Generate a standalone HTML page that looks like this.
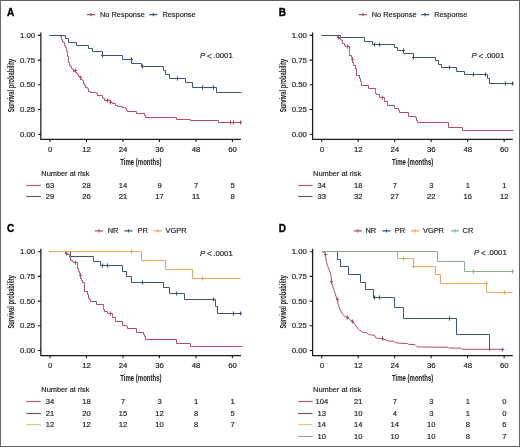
<!DOCTYPE html>
<html><head><meta charset="utf-8"><style>
html,body{margin:0;padding:0;background:#fff;}
body{width:520px;height:447px;overflow:hidden;}
svg{display:block;will-change:transform;}
svg text.t{text-anchor:middle;stroke-width:0.05px;}
svg text{font-family:"Liberation Sans",sans-serif;fill:#1e1e1e;stroke:#1e1e1e;stroke-width:0.18px;}
</style></head><body>
<svg width="520" height="447" viewBox="0 0 520 447">
<rect x="0" y="0" width="520" height="447" fill="#fff"/>
<text x="7.00" y="15.90" font-size="10" font-weight="bold" style="fill:#000;stroke:#000;stroke-width:0.35px">A</text>
<path d="M40.85,32.50V139.35H241.00" fill="none" stroke="#1a1a1a" stroke-width="1.25"/>
<text x="35.20" y="37.85" font-size="7.8" text-anchor="end" >1.00</text>
<text x="35.20" y="62.55" font-size="7.8" text-anchor="end" >0.75</text>
<text x="35.20" y="87.25" font-size="7.8" text-anchor="end" >0.50</text>
<text x="35.20" y="111.95" font-size="7.8" text-anchor="end" >0.25</text>
<text x="35.20" y="136.65" font-size="7.8" text-anchor="end" >0.00</text>
<text x="50.05" y="151.70" font-size="7.8" text-anchor="middle" >0</text>
<text x="86.54" y="151.70" font-size="7.8" text-anchor="middle" >12</text>
<text x="123.03" y="151.70" font-size="7.8" text-anchor="middle" >24</text>
<text x="159.53" y="151.70" font-size="7.8" text-anchor="middle" >36</text>
<text x="196.02" y="151.70" font-size="7.8" text-anchor="middle" >48</text>
<text x="232.51" y="151.70" font-size="7.8" text-anchor="middle" >60</text>
<path d="M37.85,35.40H40.85M37.85,60.10H40.85M37.85,84.80H40.85M37.85,109.50H40.85M37.85,134.20H40.85M49.95,139.35V141.95M86.44,139.35V141.95M122.93,139.35V141.95M159.43,139.35V141.95M195.92,139.35V141.95M232.41,139.35V141.95" stroke="#1a1a1a" stroke-width="1.1" fill="none"/>
<text transform="translate(140.90,164.80) scale(0.69,1)" font-size="8.7" font-weight="bold" class="t">Time (months)</text>
<text transform="translate(14.10,85.60) rotate(-90) scale(0.662,1)" font-size="8.7" font-weight="bold" class="t">Survival probability</text>
<text x="200.00" y="58.30" font-size="7.75" font-style="italic">P</text>
<path d="M211.70,54.20L207.40,56.20L211.70,58.20" stroke="#1e1e1e" stroke-width="0.8" fill="none"/>
<text x="213.30" y="58.30" font-size="7.75">.0001</text>
<path d="M87.00,14.60h8.2M91.10,13.00v3.2" stroke="#ae4e6a" stroke-width="1.1" fill="none"/>
<text x="100.00" y="17.10" font-size="7.4" text-anchor="start" >No Response</text>
<path d="M149.20,14.60h8.2M153.30,13.00v3.2" stroke="#3f5672" stroke-width="1.1" fill="none"/>
<text x="162.40" y="17.10" font-size="7.4" text-anchor="start" >Response</text>
<text x="41.30" y="175.90" font-size="7.4" text-anchor="start" >Number at risk</text>
<path d="M26.30,185.50H40.80" stroke="#ad5a72" stroke-width="1.15" fill="none"/>
<text x="50.05" y="188.00" font-size="7.6" text-anchor="middle" >63</text>
<text x="86.54" y="188.00" font-size="7.6" text-anchor="middle" >28</text>
<text x="123.03" y="188.00" font-size="7.6" text-anchor="middle" >14</text>
<text x="159.53" y="188.00" font-size="7.6" text-anchor="middle" >9</text>
<text x="196.02" y="188.00" font-size="7.6" text-anchor="middle" >7</text>
<text x="232.51" y="188.00" font-size="7.6" text-anchor="middle" >5</text>
<path d="M26.30,196.50H40.80" stroke="#526178" stroke-width="1.15" fill="none"/>
<text x="50.05" y="199.45" font-size="7.6" text-anchor="middle" >29</text>
<text x="86.54" y="199.45" font-size="7.6" text-anchor="middle" >26</text>
<text x="123.03" y="199.45" font-size="7.6" text-anchor="middle" >21</text>
<text x="159.53" y="199.45" font-size="7.6" text-anchor="middle" >17</text>
<text x="196.02" y="199.45" font-size="7.6" text-anchor="middle" >11</text>
<text x="232.51" y="199.45" font-size="7.6" text-anchor="middle" >8</text>
<text x="278.75" y="15.90" font-size="10" font-weight="bold" style="fill:#000;stroke:#000;stroke-width:0.35px">B</text>
<path d="M312.60,32.50V139.35H512.75" fill="none" stroke="#1a1a1a" stroke-width="1.25"/>
<text x="306.95" y="37.85" font-size="7.8" text-anchor="end" >1.00</text>
<text x="306.95" y="62.55" font-size="7.8" text-anchor="end" >0.75</text>
<text x="306.95" y="87.25" font-size="7.8" text-anchor="end" >0.50</text>
<text x="306.95" y="111.95" font-size="7.8" text-anchor="end" >0.25</text>
<text x="306.95" y="136.65" font-size="7.8" text-anchor="end" >0.00</text>
<text x="321.80" y="151.70" font-size="7.8" text-anchor="middle" >0</text>
<text x="358.29" y="151.70" font-size="7.8" text-anchor="middle" >12</text>
<text x="394.78" y="151.70" font-size="7.8" text-anchor="middle" >24</text>
<text x="431.28" y="151.70" font-size="7.8" text-anchor="middle" >36</text>
<text x="467.77" y="151.70" font-size="7.8" text-anchor="middle" >48</text>
<text x="504.26" y="151.70" font-size="7.8" text-anchor="middle" >60</text>
<path d="M309.60,35.40H312.60M309.60,60.10H312.60M309.60,84.80H312.60M309.60,109.50H312.60M309.60,134.20H312.60M321.70,139.35V141.95M358.19,139.35V141.95M394.68,139.35V141.95M431.18,139.35V141.95M467.67,139.35V141.95M504.16,139.35V141.95" stroke="#1a1a1a" stroke-width="1.1" fill="none"/>
<text transform="translate(412.65,164.80) scale(0.69,1)" font-size="8.7" font-weight="bold" class="t">Time (months)</text>
<text transform="translate(285.85,85.60) rotate(-90) scale(0.662,1)" font-size="8.7" font-weight="bold" class="t">Survival probability</text>
<text x="471.50" y="58.30" font-size="7.75" font-style="italic">P</text>
<path d="M483.20,54.20L478.90,56.20L483.20,58.20" stroke="#1e1e1e" stroke-width="0.8" fill="none"/>
<text x="484.80" y="58.30" font-size="7.75">.0001</text>
<path d="M358.75,14.60h8.2M362.85,13.00v3.2" stroke="#ae4e6a" stroke-width="1.1" fill="none"/>
<text x="371.75" y="17.10" font-size="7.4" text-anchor="start" >No Response</text>
<path d="M420.95,14.60h8.2M425.05,13.00v3.2" stroke="#3f5672" stroke-width="1.1" fill="none"/>
<text x="434.15" y="17.10" font-size="7.4" text-anchor="start" >Response</text>
<text x="313.05" y="175.90" font-size="7.4" text-anchor="start" >Number at risk</text>
<path d="M298.05,185.50H312.55" stroke="#ad5a72" stroke-width="1.15" fill="none"/>
<text x="321.80" y="188.00" font-size="7.6" text-anchor="middle" >34</text>
<text x="358.29" y="188.00" font-size="7.6" text-anchor="middle" >18</text>
<text x="394.78" y="188.00" font-size="7.6" text-anchor="middle" >7</text>
<text x="431.28" y="188.00" font-size="7.6" text-anchor="middle" >3</text>
<text x="467.77" y="188.00" font-size="7.6" text-anchor="middle" >1</text>
<text x="504.26" y="188.00" font-size="7.6" text-anchor="middle" >1</text>
<path d="M298.05,196.50H312.55" stroke="#526178" stroke-width="1.15" fill="none"/>
<text x="321.80" y="199.45" font-size="7.6" text-anchor="middle" >33</text>
<text x="358.29" y="199.45" font-size="7.6" text-anchor="middle" >32</text>
<text x="394.78" y="199.45" font-size="7.6" text-anchor="middle" >27</text>
<text x="431.28" y="199.45" font-size="7.6" text-anchor="middle" >22</text>
<text x="467.77" y="199.45" font-size="7.6" text-anchor="middle" >16</text>
<text x="504.26" y="199.45" font-size="7.6" text-anchor="middle" >12</text>
<text x="7.00" y="232.20" font-size="10" font-weight="bold" style="fill:#000;stroke:#000;stroke-width:0.35px">C</text>
<path d="M40.85,248.80V355.65H241.00" fill="none" stroke="#1a1a1a" stroke-width="1.25"/>
<text x="35.20" y="254.15" font-size="7.8" text-anchor="end" >1.00</text>
<text x="35.20" y="278.85" font-size="7.8" text-anchor="end" >0.75</text>
<text x="35.20" y="303.55" font-size="7.8" text-anchor="end" >0.50</text>
<text x="35.20" y="328.25" font-size="7.8" text-anchor="end" >0.25</text>
<text x="35.20" y="352.95" font-size="7.8" text-anchor="end" >0.00</text>
<text x="50.05" y="368.00" font-size="7.8" text-anchor="middle" >0</text>
<text x="86.54" y="368.00" font-size="7.8" text-anchor="middle" >12</text>
<text x="123.03" y="368.00" font-size="7.8" text-anchor="middle" >24</text>
<text x="159.53" y="368.00" font-size="7.8" text-anchor="middle" >36</text>
<text x="196.02" y="368.00" font-size="7.8" text-anchor="middle" >48</text>
<text x="232.51" y="368.00" font-size="7.8" text-anchor="middle" >60</text>
<path d="M37.85,251.70H40.85M37.85,276.40H40.85M37.85,301.10H40.85M37.85,325.80H40.85M37.85,350.50H40.85M49.95,355.65V358.25M86.44,355.65V358.25M122.93,355.65V358.25M159.43,355.65V358.25M195.92,355.65V358.25M232.41,355.65V358.25" stroke="#1a1a1a" stroke-width="1.1" fill="none"/>
<text transform="translate(140.90,381.10) scale(0.69,1)" font-size="8.7" font-weight="bold" class="t">Time (months)</text>
<text transform="translate(14.10,301.90) rotate(-90) scale(0.662,1)" font-size="8.7" font-weight="bold" class="t">Survival probability</text>
<text x="200.00" y="255.60" font-size="7.75" font-style="italic">P</text>
<path d="M211.70,251.50L207.40,253.50L211.70,255.50" stroke="#1e1e1e" stroke-width="0.8" fill="none"/>
<text x="213.30" y="255.60" font-size="7.75">.0001</text>
<path d="M94.80,230.90h8.2M98.90,229.30v3.2" stroke="#ae4e6a" stroke-width="1.1" fill="none"/>
<text x="107.70" y="233.40" font-size="7.4" text-anchor="start" >NR</text>
<path d="M124.40,230.90h8.2M128.50,229.30v3.2" stroke="#3f5672" stroke-width="1.1" fill="none"/>
<text x="137.60" y="233.40" font-size="7.4" text-anchor="start" >PR</text>
<path d="M153.60,230.90h8.2M157.70,229.30v3.2" stroke="#e2a862" stroke-width="1.1" fill="none"/>
<text x="165.60" y="233.40" font-size="7.4" text-anchor="start" >VGPR</text>
<text x="41.30" y="392.20" font-size="7.4" text-anchor="start" >Number at risk</text>
<path d="M26.30,401.50H40.80" stroke="#ad5a72" stroke-width="1.15" fill="none"/>
<text x="50.05" y="404.30" font-size="7.6" text-anchor="middle" >34</text>
<text x="86.54" y="404.30" font-size="7.6" text-anchor="middle" >18</text>
<text x="123.03" y="404.30" font-size="7.6" text-anchor="middle" >7</text>
<text x="159.53" y="404.30" font-size="7.6" text-anchor="middle" >3</text>
<text x="196.02" y="404.30" font-size="7.6" text-anchor="middle" >1</text>
<text x="232.51" y="404.30" font-size="7.6" text-anchor="middle" >1</text>
<path d="M26.30,413.50H40.80" stroke="#526178" stroke-width="1.15" fill="none"/>
<text x="50.05" y="415.75" font-size="7.6" text-anchor="middle" >21</text>
<text x="86.54" y="415.75" font-size="7.6" text-anchor="middle" >20</text>
<text x="123.03" y="415.75" font-size="7.6" text-anchor="middle" >15</text>
<text x="159.53" y="415.75" font-size="7.6" text-anchor="middle" >12</text>
<text x="196.02" y="415.75" font-size="7.6" text-anchor="middle" >8</text>
<text x="232.51" y="415.75" font-size="7.6" text-anchor="middle" >5</text>
<path d="M26.30,424.50H40.80" stroke="#dfc685" stroke-width="1.15" fill="none"/>
<text x="50.05" y="427.20" font-size="7.6" text-anchor="middle" >12</text>
<text x="86.54" y="427.20" font-size="7.6" text-anchor="middle" >12</text>
<text x="123.03" y="427.20" font-size="7.6" text-anchor="middle" >12</text>
<text x="159.53" y="427.20" font-size="7.6" text-anchor="middle" >10</text>
<text x="196.02" y="427.20" font-size="7.6" text-anchor="middle" >8</text>
<text x="232.51" y="427.20" font-size="7.6" text-anchor="middle" >7</text>
<text x="278.75" y="232.20" font-size="10" font-weight="bold" style="fill:#000;stroke:#000;stroke-width:0.35px">D</text>
<path d="M312.60,248.80V355.65H512.75" fill="none" stroke="#1a1a1a" stroke-width="1.25"/>
<text x="306.95" y="254.15" font-size="7.8" text-anchor="end" >1.00</text>
<text x="306.95" y="278.85" font-size="7.8" text-anchor="end" >0.75</text>
<text x="306.95" y="303.55" font-size="7.8" text-anchor="end" >0.50</text>
<text x="306.95" y="328.25" font-size="7.8" text-anchor="end" >0.25</text>
<text x="306.95" y="352.95" font-size="7.8" text-anchor="end" >0.00</text>
<text x="321.80" y="368.00" font-size="7.8" text-anchor="middle" >0</text>
<text x="358.29" y="368.00" font-size="7.8" text-anchor="middle" >12</text>
<text x="394.78" y="368.00" font-size="7.8" text-anchor="middle" >24</text>
<text x="431.28" y="368.00" font-size="7.8" text-anchor="middle" >36</text>
<text x="467.77" y="368.00" font-size="7.8" text-anchor="middle" >48</text>
<text x="504.26" y="368.00" font-size="7.8" text-anchor="middle" >60</text>
<path d="M309.60,251.70H312.60M309.60,276.40H312.60M309.60,301.10H312.60M309.60,325.80H312.60M309.60,350.50H312.60M321.70,355.65V358.25M358.19,355.65V358.25M394.68,355.65V358.25M431.18,355.65V358.25M467.67,355.65V358.25M504.16,355.65V358.25" stroke="#1a1a1a" stroke-width="1.1" fill="none"/>
<text transform="translate(412.65,381.10) scale(0.69,1)" font-size="8.7" font-weight="bold" class="t">Time (months)</text>
<text transform="translate(285.85,301.90) rotate(-90) scale(0.662,1)" font-size="8.7" font-weight="bold" class="t">Survival probability</text>
<text x="474.00" y="255.20" font-size="7.75" font-style="italic">P</text>
<path d="M485.70,251.10L481.40,253.10L485.70,255.10" stroke="#1e1e1e" stroke-width="0.8" fill="none"/>
<text x="487.30" y="255.20" font-size="7.75">.0001</text>
<path d="M353.75,230.90h8.2M357.85,229.30v3.2" stroke="#ae4e6a" stroke-width="1.1" fill="none"/>
<text x="365.40" y="233.40" font-size="7.4" text-anchor="start" >NR</text>
<path d="M382.30,230.90h8.2M386.40,229.30v3.2" stroke="#3f5672" stroke-width="1.1" fill="none"/>
<text x="394.80" y="233.40" font-size="7.4" text-anchor="start" >PR</text>
<path d="M411.00,230.90h8.2M415.10,229.30v3.2" stroke="#e2a862" stroke-width="1.1" fill="none"/>
<text x="423.00" y="233.40" font-size="7.4" text-anchor="start" >VGPR</text>
<path d="M451.00,230.90h8.2M455.10,229.30v3.2" stroke="#84b38e" stroke-width="1.1" fill="none"/>
<text x="462.60" y="233.40" font-size="7.4" text-anchor="start" >CR</text>
<text x="313.05" y="392.20" font-size="7.4" text-anchor="start" >Number at risk</text>
<path d="M298.05,401.50H312.55" stroke="#ad5a72" stroke-width="1.15" fill="none"/>
<text x="321.80" y="404.30" font-size="7.6" text-anchor="middle" >104</text>
<text x="358.29" y="404.30" font-size="7.6" text-anchor="middle" >21</text>
<text x="394.78" y="404.30" font-size="7.6" text-anchor="middle" >7</text>
<text x="431.28" y="404.30" font-size="7.6" text-anchor="middle" >3</text>
<text x="467.77" y="404.30" font-size="7.6" text-anchor="middle" >1</text>
<text x="504.26" y="404.30" font-size="7.6" text-anchor="middle" >0</text>
<path d="M298.05,413.50H312.55" stroke="#526178" stroke-width="1.15" fill="none"/>
<text x="321.80" y="415.75" font-size="7.6" text-anchor="middle" >13</text>
<text x="358.29" y="415.75" font-size="7.6" text-anchor="middle" >10</text>
<text x="394.78" y="415.75" font-size="7.6" text-anchor="middle" >4</text>
<text x="431.28" y="415.75" font-size="7.6" text-anchor="middle" >3</text>
<text x="467.77" y="415.75" font-size="7.6" text-anchor="middle" >1</text>
<text x="504.26" y="415.75" font-size="7.6" text-anchor="middle" >0</text>
<path d="M298.05,424.50H312.55" stroke="#dfc685" stroke-width="1.15" fill="none"/>
<text x="321.80" y="427.20" font-size="7.6" text-anchor="middle" >14</text>
<text x="358.29" y="427.20" font-size="7.6" text-anchor="middle" >14</text>
<text x="394.78" y="427.20" font-size="7.6" text-anchor="middle" >14</text>
<text x="431.28" y="427.20" font-size="7.6" text-anchor="middle" >10</text>
<text x="467.77" y="427.20" font-size="7.6" text-anchor="middle" >8</text>
<text x="504.26" y="427.20" font-size="7.6" text-anchor="middle" >6</text>
<path d="M298.05,436.50H312.55" stroke="#8fac96" stroke-width="1.15" fill="none"/>
<text x="321.80" y="438.65" font-size="7.6" text-anchor="middle" >10</text>
<text x="358.29" y="438.65" font-size="7.6" text-anchor="middle" >10</text>
<text x="394.78" y="438.65" font-size="7.6" text-anchor="middle" >10</text>
<text x="431.28" y="438.65" font-size="7.6" text-anchor="middle" >10</text>
<text x="467.77" y="438.65" font-size="7.6" text-anchor="middle" >8</text>
<text x="504.26" y="438.65" font-size="7.6" text-anchor="middle" >7</text>
<path transform="translate(0,0)" d="M49.50,35.50H60.50V36.50H61.50V38.50H61.50V39.50H62.50V41.50H63.50V42.50H64.50V44.50H64.50V45.50H65.50V47.50H66.50V48.50H66.50V50.50H66.50V51.50H67.50V53.50H67.50V54.50H67.50V56.50H68.50V57.50H68.50V59.50H68.50V60.50H68.50V62.50H69.50V63.50H69.50V65.50H70.50V66.50H71.50V68.50H72.50V69.50H73.50V71.50H75.50V72.50H76.50V73.50H77.50V74.50H78.50V76.50H79.50V77.50H80.50V79.50H82.50V80.50H83.50V82.50H83.50V83.50H84.50V85.50H85.50V87.50H87.50V88.50H88.50V89.50H88.50V91.50H90.50V92.50H96.50V93.50H97.50V95.50H102.50V97.50H103.50V98.50H104.50V100.50H110.50V101.50H111.50V102.50H112.50V103.50H115.50V105.50H117.50V106.50H122.50V107.50H125.50V108.50H126.50V110.50H127.50V111.50H136.50V113.50H144.50V115.50H145.50V117.50H176.50V119.50H190.50V120.50H218.50V122.50H240.50" stroke="#ae4e6a" stroke-width="1.0" fill="none" stroke-linejoin="miter"/>
<path transform="translate(0,0)" d="M75.50,68.50v4M74.00,70.50h3M80.50,75.50v4M79.00,77.50h3M107.50,98.50v4M106.00,100.50h3M110.50,100.50v4M109.00,102.50h3M230.50,120.50v4M229.00,122.50h3M233.50,120.50v4M232.00,122.50h3M240.50,120.50v4M239.00,122.50h3" stroke="#ae4e6a" stroke-width="1.2" fill="none"/>
<path transform="translate(0,0)" d="M49.50,35.50H65.50V38.50H68.50V42.50H76.50V45.50H88.50V48.50H92.50V51.50H102.50V55.50H122.50V59.50H131.50V63.50H141.50V66.50H163.50V70.50H165.50V74.50H169.50V78.50H185.50V82.50H192.50V87.50H216.50V92.50H241.50" stroke="#3f5672" stroke-width="1.0" fill="none" stroke-linejoin="miter"/>
<path transform="translate(0,0)" d="M102.50,53.50v4M101.00,55.50h3M131.50,57.50v4M130.00,59.50h3M142.50,64.50v4M141.00,66.50h3M177.50,76.50v4M176.00,78.50h3M202.50,85.50v4M201.00,87.50h3M213.50,85.50v4M212.00,87.50h3" stroke="#3f5672" stroke-width="1.2" fill="none"/>
<path transform="translate(0,0)" d="M321.50,35.50H337.50V36.50H338.50V38.50H340.50V39.50H341.50V40.50H342.50V42.50H342.50V43.50H344.50V45.50H345.50V46.50H349.50V49.50H349.50V52.50H349.50V55.50H351.50V57.50H352.50V59.50H352.50V62.50H353.50V64.50H353.50V65.50H355.50V68.50H356.50V72.50H356.50V75.50H359.50V78.50H360.50V81.50H361.50V83.50H361.50V85.50H368.50V88.50H375.50V91.50H375.50V93.50H376.50V94.50H379.50V97.50H384.50V99.50H384.50V101.50H387.50V103.50H387.50V105.50H394.50V108.50H398.50V110.50H399.50V112.50H408.50V116.50H415.50V117.50H416.50V120.50H417.50V122.50H448.50V127.50H462.50V130.50H513.50" stroke="#ae4e6a" stroke-width="1.0" fill="none" stroke-linejoin="miter"/>
<path transform="translate(0,0)" d="M338.50,35.50v4M337.00,37.50h3M347.50,44.50v4M346.00,46.50h3M352.50,57.50v4M351.00,59.50h3M382.50,95.50v4M381.00,97.50h3" stroke="#ae4e6a" stroke-width="1.2" fill="none"/>
<path transform="translate(0,0)" d="M321.50,35.50H340.50V37.50H364.50V41.50H372.50V44.50H394.50V47.50H397.50V50.50H403.50V53.50H413.50V57.50H435.50V60.50H438.50V64.50H441.50V67.50H456.50V71.50H464.50V74.50H487.50V78.50H489.50V83.50H513.50" stroke="#3f5672" stroke-width="1.0" fill="none" stroke-linejoin="miter"/>
<path transform="translate(0,0)" d="M374.50,42.50v4M373.00,44.50h3M379.50,42.50v4M378.00,44.50h3M403.50,48.50v4M402.00,50.50h3M413.50,55.50v4M412.00,57.50h3M449.50,65.50v4M448.00,67.50h3M473.50,72.50v4M472.00,74.50h3M485.50,72.50v4M484.00,74.50h3M505.50,81.50v4M504.00,83.50h3M512.50,81.50v4M511.00,83.50h3" stroke="#3f5672" stroke-width="1.2" fill="none"/>
<path transform="translate(-271.75,216.3)" d="M321.25,35.20H337.25V37.20H338.25V38.20H341.25V39.20H341.25V41.20H342.25V42.20H342.25V44.20H344.25V45.20H345.25V46.20H349.25V49.20H349.25V52.20H350.25V55.20H351.25V57.20H352.25V59.20H352.25V62.20H353.25V64.20H354.25V66.20H356.25V68.20H356.25V72.20H356.25V75.20H359.25V78.20H360.25V82.20H361.25V83.20H362.25V85.20H368.25V88.20H375.25V91.20H375.25V93.20H376.25V95.20H379.25V97.20H384.25V99.20H384.25V101.20H387.25V103.20H387.25V105.20H394.25V109.20H398.25V110.20H399.25V112.20H408.25V116.20H415.25V118.20H416.25V120.20H417.25V123.20H448.25V127.20H462.25V130.20H514.25" stroke="#ae4e6a" stroke-width="1.0" fill="none" stroke-linejoin="miter"/>
<path transform="translate(-271.75,216.3)" d="M338.25,35.20v4M336.75,37.20h3M347.25,44.20v4M345.75,46.20h3M352.25,57.20v4M350.75,59.20h3M382.25,95.20v4M380.75,97.20h3" stroke="#ae4e6a" stroke-width="1.2" fill="none"/>
<path transform="translate(0,0)" d="M49.50,251.50H70.50V256.50H93.50V261.50H100.50V265.50H122.50V271.50H126.50V276.50H131.50V282.50H163.50V287.50H169.50V293.50H184.50V299.50H215.50V306.50H217.50V313.50H240.50" stroke="#3f5672" stroke-width="1.0" fill="none" stroke-linejoin="miter"/>
<path transform="translate(0,0)" d="M102.50,263.50v4M101.00,265.50h3M107.50,263.50v4M106.00,265.50h3M142.50,280.50v4M141.00,282.50h3M176.50,291.50v4M175.00,293.50h3M213.50,297.50v4M212.00,299.50h3M233.50,311.50v4M232.00,313.50h3M240.50,311.50v4M239.00,313.50h3" stroke="#3f5672" stroke-width="1.2" fill="none"/>
<path transform="translate(0,0)" d="M49.50,251.50H141.50V260.50H165.50V269.50H192.50V278.50H240.50" stroke="#e2a862" stroke-width="1.0" fill="none" stroke-linejoin="miter"/>
<path transform="translate(0,0)" d="M131.50,249.50v4M130.00,251.50h3M202.50,276.50v4M201.00,278.50h3" stroke="#e2a862" stroke-width="1.2" fill="none"/>
<path transform="translate(0,0)" d="M322,251.4L322.40,252.00L325.00,252.40L325.70,256.70L326.40,261.40L327.40,265.50L328.80,268.80L330.10,272.20L331.10,276.20L331.60,281.70L332.70,286.40L334.40,291.10L336.10,296.50L337.30,300.00L338.20,304.50L340.00,309.80L342.70,314.30L345.00,316.60L347.60,317.20L349.90,319.70L352.60,321.50L354.80,324.20L357.00,327.30L359.70,330.40L362.90,332.20L366.90,332.70L368.70,334.50L374.60,335.30L375.90,338.00L382.00,338.60L386.00,340.00L388.50,341.20L393.70,341.20L395.40,342.50L398.80,343.20L407.50,343.50L408.70,344.40L415.00,344.60L417.30,346.90L447.90,347.30L448.60,348.00L461.30,348.20L462.00,349.30H502.7" stroke="#ae4e6a" stroke-width="1.0" fill="none" stroke-linejoin="miter"/>
<path transform="translate(0,0)" d="M325.50,252.50v4M324.00,254.50h3M331.50,279.50v4M330.00,281.50h3M337.50,297.50v4M336.00,299.50h3M347.50,315.50v4M346.00,317.50h3M352.50,319.50v4M351.00,321.50h3M382.50,336.50v4M381.00,338.50h3M502.50,347.50v4M501.00,349.50h3" stroke="#ae4e6a" stroke-width="1.2" fill="none"/>
<path transform="translate(0,0)" d="M322.50,251.50H337.50V259.50H340.50V266.50H348.50V274.50H360.50V282.50H365.50V289.50H373.50V297.50H394.50V307.50H403.50V318.50H456.50V334.50H489.50V350.50" stroke="#3f5672" stroke-width="1.0" fill="none" stroke-linejoin="miter"/>
<path transform="translate(0,0)" d="M374.50,295.50v4M373.00,297.50h3M379.50,295.50v4M378.00,297.50h3M449.50,316.50v4M448.00,318.50h3" stroke="#3f5672" stroke-width="1.2" fill="none"/>
<path transform="translate(0,0)" d="M322.50,251.50H397.50V258.50H413.50V266.50H435.50V274.50H440.50V283.50H486.50V292.50H512.50" stroke="#e2a862" stroke-width="1.0" fill="none" stroke-linejoin="miter"/>
<path transform="translate(0,0)" d="M403.50,256.50v4M402.00,258.50h3M413.50,264.50v4M412.00,266.50h3M486.50,281.50v4M485.00,283.50h3M504.50,290.50v4M503.00,292.50h3" stroke="#e2a862" stroke-width="1.2" fill="none"/>
<path transform="translate(0,0)" d="M322.50,251.50H437.50V261.50H464.50V271.50H512.50" stroke="#84b38e" stroke-width="1.0" fill="none" stroke-linejoin="miter"/>
<path transform="translate(0,0)" d="M473.50,269.50v4M472.00,271.50h3M512.50,269.50v4M511.00,271.50h3" stroke="#84b38e" stroke-width="1.2" fill="none"/>
<path d="M0,0.5H520" stroke="#616161" stroke-width="1"/>
<path d="M519.5,0V447" stroke="#666" stroke-width="1"/>
<path d="M0,446.5H520" stroke="#5f5f5f" stroke-width="1"/>
<path d="M0.5,0V447" stroke="#6a6a6a" stroke-width="1"/>
</svg>
</body></html>
